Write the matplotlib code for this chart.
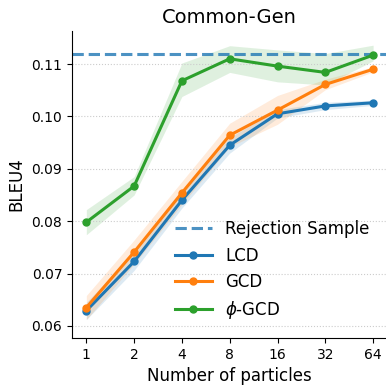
import matplotlib
matplotlib.use("Agg")
import matplotlib.pyplot as plt
import numpy as np

# Datos
particulas = ["1", "2", "4", "8", "16", "32", "64"]
rechazo = 0.1119

lcd = [0.0629, 0.0723, 0.0840, 0.0945, 0.1005, 0.1020, 0.1026]
lcd_inf = [0.0612, 0.0706, 0.0825, 0.0930, 0.0997, 0.1013, 0.1021]
lcd_sup = [0.0645, 0.0740, 0.0855, 0.0960, 0.1013, 0.1027, 0.1031]

gcd = [0.0635, 0.0741, 0.0854, 0.0964, 0.1012, 0.1061, 0.1090]
gcd_inf = [0.0612, 0.0718, 0.0832, 0.0942, 0.0985, 0.1051, 0.1085]
gcd_sup = [0.0658, 0.0764, 0.0876, 0.0987, 0.1040, 0.1071, 0.1095]

phi_gcd = [0.0798, 0.0867, 0.1068, 0.1110, 0.1096, 0.1084, 0.1117]
phi_inf = [0.0774, 0.0850, 0.1038, 0.1084, 0.1066, 0.1060, 0.1106]
phi_sup = [0.0822, 0.0885, 0.1102, 0.1135, 0.1127, 0.1120, 0.1136]


def main() -> None:
    fig = plt.figure(figsize=(3.86, 3.88), dpi=100)
    ax = fig.add_axes([0.1865, 0.129, 0.8135, 0.791])
    x = np.arange(len(particulas))

    ax.axhline(rechazo, color="tab:blue", alpha=0.8, linestyle="--",
               linewidth=2.2, label="Rejection Sample")

    series = [
        ("LCD", lcd, lcd_inf, lcd_sup, "tab:blue"),
        ("GCD", gcd, gcd_inf, gcd_sup, "tab:orange"),
        (r"$\phi$-GCD", phi_gcd, phi_inf, phi_sup, "tab:green"),
    ]
    for nombre, media, inf, sup, color in series:
        ax.fill_between(x, inf, sup, color=color, alpha=0.15, linewidth=0)
        ax.plot(x, media, color=color, marker="o", markersize=5,
                linewidth=2.2, label=nombre)

    ax.set_xticks(x)
    ax.set_xticklabels(particulas)
    ax.set_xlim(-0.3, 6.27)
    ax.set_ylim(0.0577, 0.1163)
    ax.set_yticks([0.06, 0.07, 0.08, 0.09, 0.10, 0.11])
    ax.tick_params(labelsize=10)
    ax.grid(axis="y", linestyle=":", color="0.8", linewidth=0.8)
    ax.spines["top"].set_visible(False)
    ax.spines["right"].set_visible(False)

    ax.set_xlabel("Number of particles", fontsize=12)
    ax.set_ylabel("BLEU4", fontsize=12)
    ax.set_title("Common-Gen", fontsize=14)
    ax.legend(loc="lower right", frameon=False, fontsize=12,
              handlelength=2.2, borderaxespad=0.6)

    fig.savefig("out.png", dpi=100)
    plt.close(fig)


if __name__ == "__main__":
    main()
